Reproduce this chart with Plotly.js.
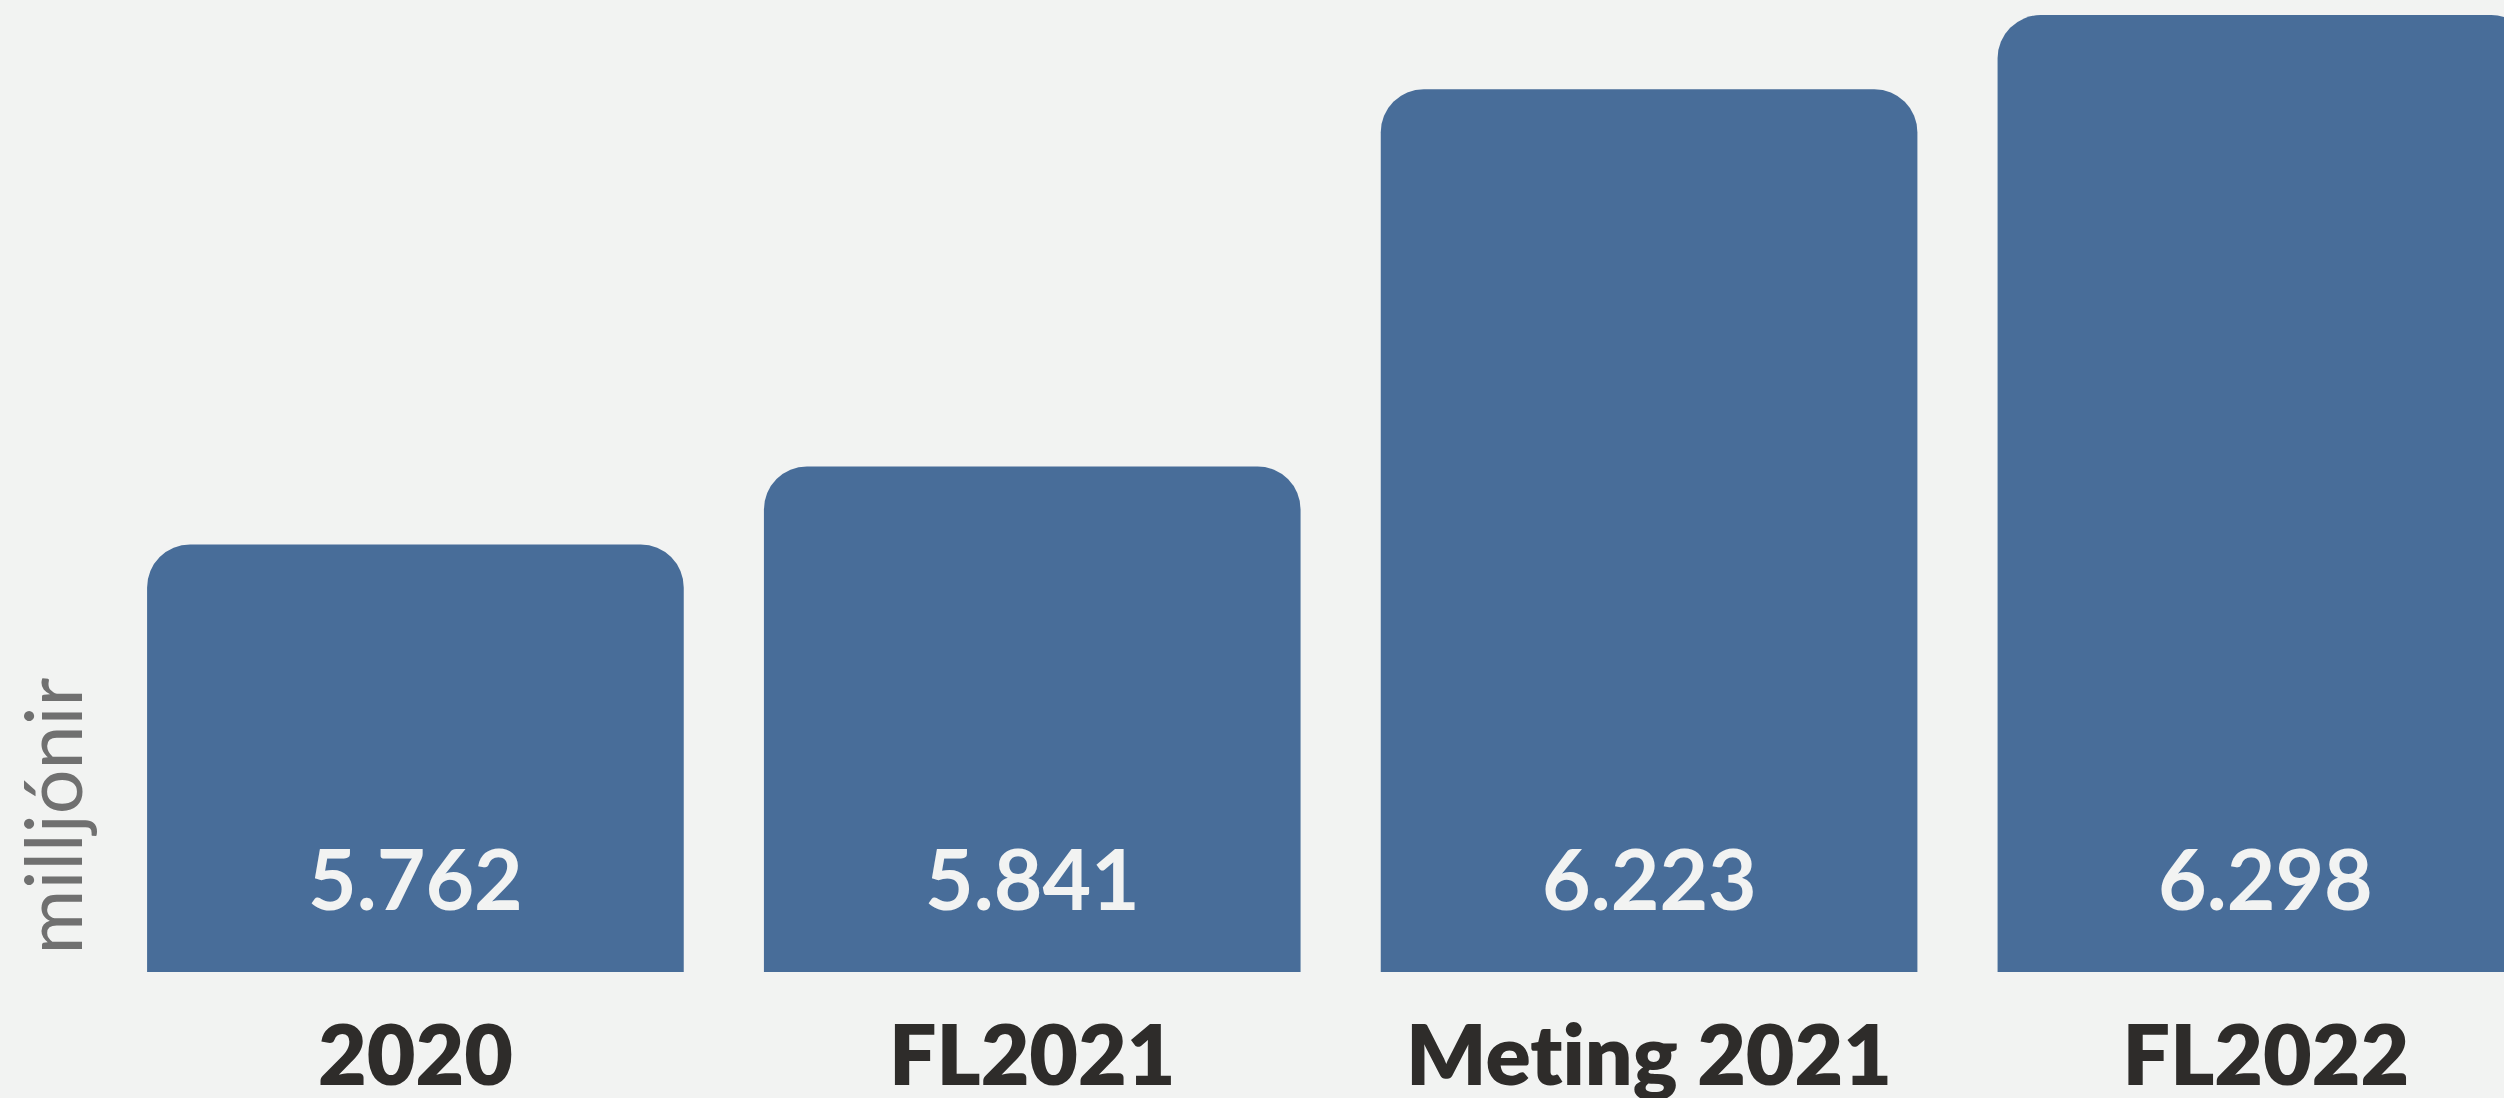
<!DOCTYPE html>
<html>
<head>
<meta charset="utf-8">
<script src="https://cdn.plot.ly/plotly-3.0.1.min.js"></script>
<style>
html,body{margin:0;padding:0;background:#f2f3f2;overflow:hidden;}
#chart{width:2504px;height:1098px;}
text{font-variant-ligatures:none;font-feature-settings:"liga" 0,"clig" 0;}
</style>
</head>
<body>
<div id="chart"></div>
<script>
const categories = ["2020", "FL2021", "Meting 2021", "FL2022"];
const values = [5.762, 5.841, 6.223, 6.298];
const valueLabels = ["5.762", "5.841", "6.223", "6.298"];
const yTitle = "milljónir";

const bg = "#f2f3f2";
const barColor = "#486d99";

const trace = {
  type: "bar",
  x: categories,
  y: values,
  marker: {color: barColor, line: {width: 0}},
  hoverinfo: "none",
  width: 0.87
};

const annotations = categories.map((c, i) => ({
  x: i, xref: "x",
  y: 0, yref: "paper",
  yanchor: "middle", xanchor: "center",
  yshift: 95,
  text: valueLabels[i],
  showarrow: false,
  font: {family: "Lato, 'Open Sans', sans-serif", size: 84, color: bg, weight: 700}
}));

annotations.push({
  xref: "paper", x: 0, xanchor: "center", xshift: -56,
  yref: "paper", y: 0.16, yanchor: "middle",
  text: yTitle, textangle: -90, showarrow: false,
  font: {family: "Lato, 'Open Sans', sans-serif", size: 79, color: "#707070", weight: 400}
});

const layout = {
  width: 2504, height: 1098,
  paper_bgcolor: bg, plot_bgcolor: bg,
  margin: {l: 107, r: 0, t: 0, b: 126, pad: 0},
  showlegend: false,
  barcornerradius: 43,
  xaxis: {
    type: "category",
    range: [-0.5, 3.386],
    showgrid: false, zeroline: false, showline: false, ticks: "",
    tickfont: {family: "Lato, 'Open Sans', sans-serif", size: 84, color: "#2e2c2a", weight: 800},
    ticklabelstandoff: 28,
    fixedrange: true
  },
  yaxis: {
    range: [5.329, 6.3133],
    showgrid: false, zeroline: false, showline: false, ticks: "",
    showticklabels: false,
    fixedrange: true
  },
  annotations: annotations
};

Plotly.newPlot("chart", [trace], layout, {displayModeBar: false, staticPlot: true});
</script>
</body>
</html>
